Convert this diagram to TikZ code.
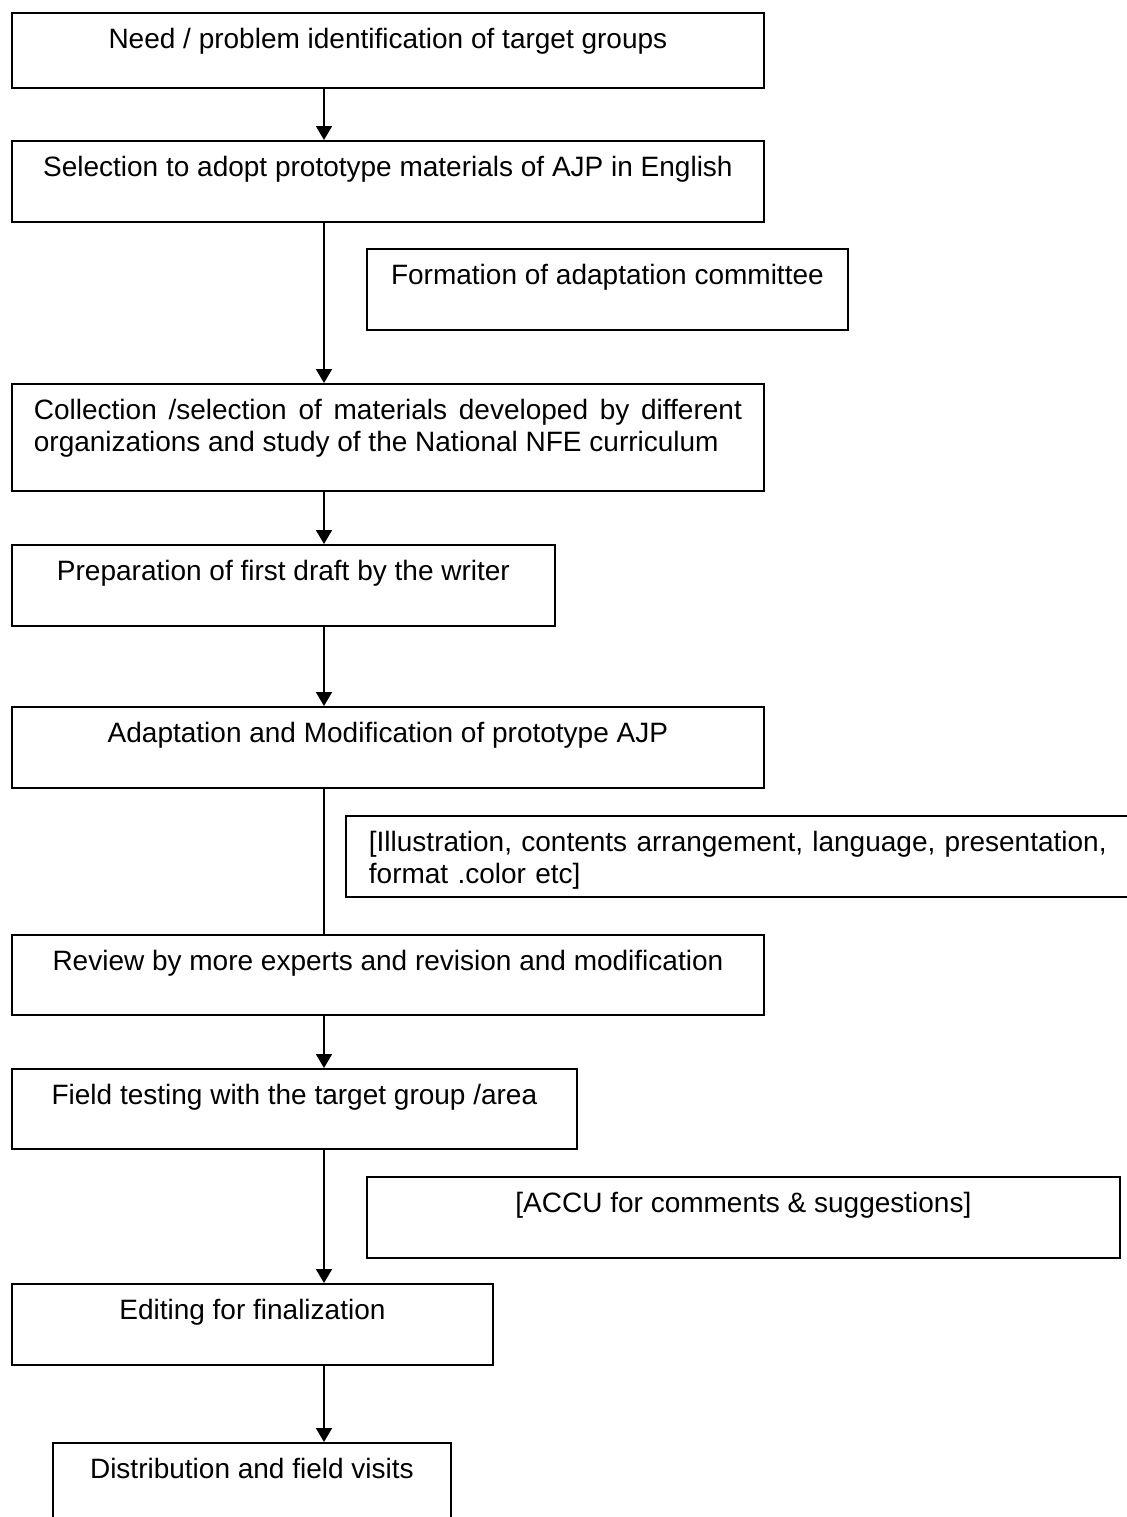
\documentclass[tikz,border=0pt]{standalone}
\usepackage{fontspec}
\setmainfont{Liberation Sans}
\usetikzlibrary{arrows.meta}

\begin{document}
\begin{tikzpicture}[x=0.5pt, y=-0.5pt,
    stepbox/.style={draw, line width=0.9pt, anchor=north west, inner sep=0pt,
      align=center, text height=18pt, text depth=22.5pt,
      font=\fontsize{14}{16}\selectfont},
    flow/.style={line width=0.9pt, -{Triangle[width=8pt,length=7pt]}},
    link/.style={line width=0.9pt}]
  \useasboundingbox (0,0) rectangle (1126,1517);

  % main column of steps
  \node[stepbox, minimum width=376pt, text depth=19.5pt] (need) at (11,12)
    {Need / problem identification of target groups};
  \node[stepbox, minimum width=376pt] (select) at (11,140)
    {Selection to adopt prototype materials of AJP in English};
  \node[stepbox, minimum width=376pt, text width=354pt, align=justify, text depth=35.5pt] (collect) at (11,383)
    {Collection /selection of materials developed by different organizations and study of the National NFE curriculum};
  \node[stepbox, minimum width=271.5pt] (draft) at (11,544)
    {Preparation of first draft by the writer};
  \node[stepbox, minimum width=376pt] (adapt) at (11,706)
    {Adaptation and Modification of prototype AJP};
  \node[stepbox, minimum width=376pt, text depth=22pt] (review) at (11,934)
    {Review by more experts and revision and modification};
  \node[stepbox, minimum width=282.5pt, text depth=22pt] (field) at (11,1068)
    {Field testing with the target group /area};
  \node[stepbox, minimum width=240.5pt] (edit) at (11,1283)
    {Editing for finalization};
  \node[stepbox, minimum width=199pt, text depth=32pt] (distrib) at (52,1442)
    {Distribution and field visits};

  % side notes
  \node[stepbox, minimum width=240.5pt] (committee) at (366,248)
    {Formation of adaptation committee};
  \node[stepbox, minimum width=407.5pt, text width=384.5pt, align=left] (illus) at (345,815)
    {[Illustration, contents arrangement, language, presentation,\\format .color etc]};
  \node[stepbox, minimum width=376.5pt] (accu) at (366,1176)
    {[ACCU for comments \& suggestions]};

  % connectors
  \coordinate (spine) at (324,0);
  \draw[flow] (need.south -| spine) -- (select.north -| spine);
  \draw[flow] (select.south -| spine) -- (collect.north -| spine);
  \draw[flow] (collect.south -| spine) -- (draft.north -| spine);
  \draw[flow] (draft.south -| spine) -- (adapt.north -| spine);
  \draw[link] (adapt.south -| spine) -- (review.north -| spine); % no head here
  \draw[flow] (review.south -| spine) -- (field.north -| spine);
  \draw[flow] (field.south -| spine) -- (edit.north -| spine);
  \draw[flow] (edit.south -| spine) -- (distrib.north -| spine);
\end{tikzpicture}
\end{document}
